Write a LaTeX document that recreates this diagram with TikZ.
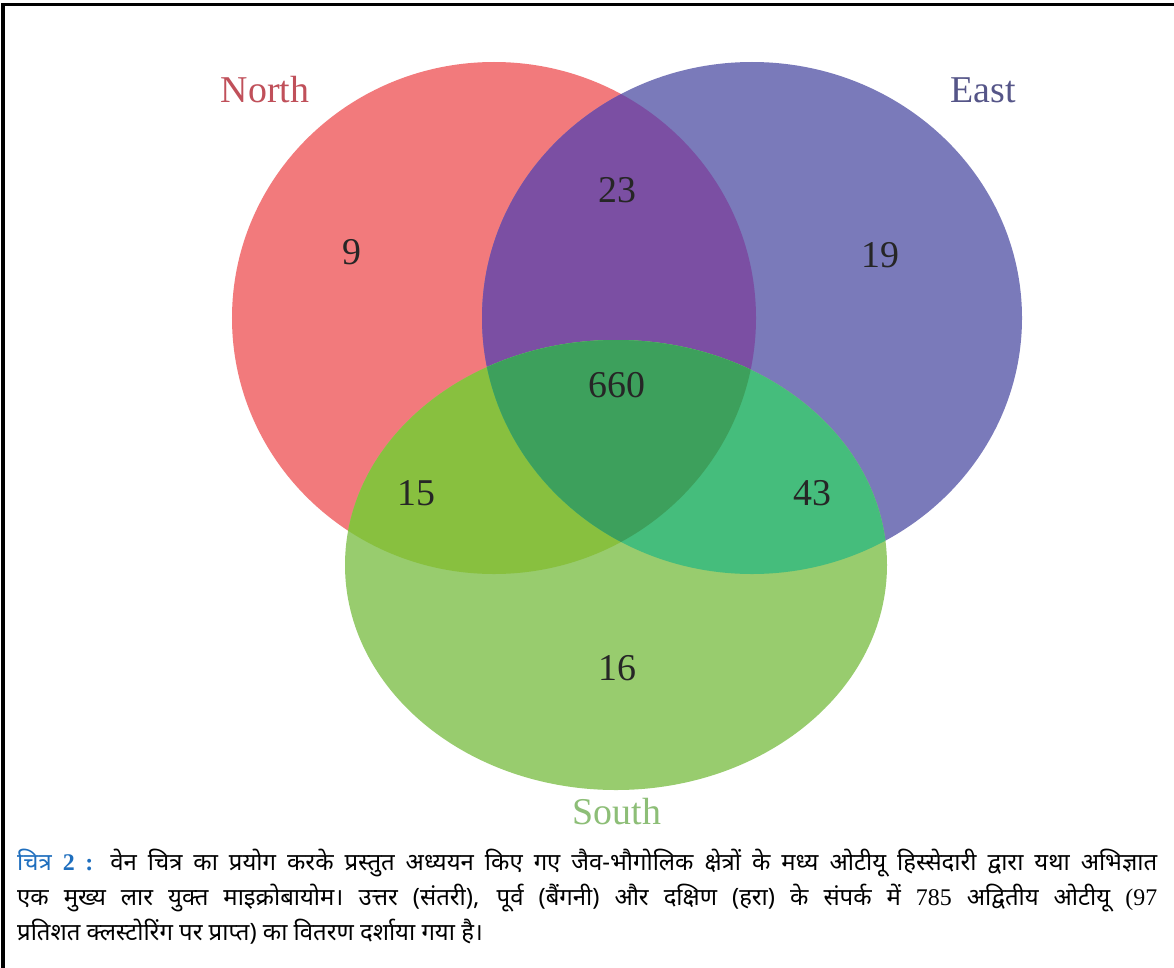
\documentclass[tikz,border=0pt]{standalone}
\usepackage{fontspec}
\setmainfont{Liberation Serif}
\newfontfamily\dev[Script=Devanagari]{Noto Sans}
\definecolor{cNorth}{HTML}{F27A7C}
\definecolor{cEast}{HTML}{7A7ABA}
\definecolor{cNE}{HTML}{7B4FA3}
\definecolor{cSouth}{HTML}{98CC6E}
\definecolor{cNS}{HTML}{88C03F}
\definecolor{cES}{HTML}{45BD7C}
\definecolor{cNES}{HTML}{3DA05C}
\definecolor{lNorth}{HTML}{C0505A}
\definecolor{lEast}{HTML}{555588}
\definecolor{lSouth}{HTML}{8DBE77}
\definecolor{capblue}{HTML}{1E6EBE}
\tikzset{
  num/.style={font=\fontsize{38}{40}\selectfont, text=black!85},
  setlabel/.style={font=\fontsize{38}{40}\selectfont},
  capline/.style={anchor=base west, inner sep=0pt, font=\fontsize{24}{28}\selectfont},
}
\newcommand{\northpath}{(494,318) ellipse [x radius=262bp, y radius=256bp]}
\newcommand{\eastpath}{(752,318) ellipse [x radius=270bp, y radius=256bp]}
\newcommand{\southpath}{(616,565) ellipse [x radius=271bp, y radius=225bp]}
\begin{document}
\begin{tikzpicture}[x=1bp,y=-1bp]
\useasboundingbox (0,0) rectangle (1174,968);
\fill[white] (0,0) rectangle (1174,968);
% frame
\draw[line width=3bp] (3,968) -- (3,4) -- (1174,4);
% circles
\fill[cNorth] \northpath;
\fill[cEast] \eastpath;
\begin{scope}
  \clip \northpath;
  \fill[cNE] \eastpath;
\end{scope}
\fill[cSouth] \southpath;
\begin{scope}
  \clip \southpath;
  \fill[cNS] \northpath;
  \fill[cES] \eastpath;
  \clip \northpath;
  \fill[cNES] \eastpath;
\end{scope}
% labels
\node[setlabel, text=lNorth] (lN) at (265,90) {North};
\node[setlabel, text=lEast] (lE) at (983,90) {East};
\node[setlabel, text=lSouth] (lS) at (617,812) {South};
\node[num] (n9) at (352,252) {9};
\node[num] (n23) at (617,190) {23};
\node[num] (n19) at (880,255) {19};
\node[num] (n660) at (617,385) {660};
\node[num] (n15) at (416,493) {15};
\node[num] (n43) at (812,493) {43};
\node[num] (n16) at (617,668) {16};
% caption
\node[capline] (c1) at (17,870) {\makebox[1140bp][s]{\textcolor{capblue}{\dev\bfseries चित्र \rmfamily 2 :} \dev वेन चित्र का प्रयोग करके प्रस्तुत अध्ययन किए गए जैव-भौगोलिक क्षेत्रों के मध्य ओटीयू हिस्सेदारी द्वारा यथा अभिज्ञात}};
\node[capline] (c2) at (17,905) {\makebox[1140bp][s]{\dev एक मुख्य लार युक्त माइक्रोबायोम। उत्तर (संतरी), पूर्व (बैंगनी) और दक्षिण (हरा) के संपर्क में {\rmfamily 785} अद्वितीय ओटीयू {\rmfamily (97}}};
\node[capline] (c3) at (17,940) {\dev प्रतिशत क्लस्टोरिंग पर प्राप्त) का वितरण दर्शाया गया है।};
\end{tikzpicture}
\end{document}
